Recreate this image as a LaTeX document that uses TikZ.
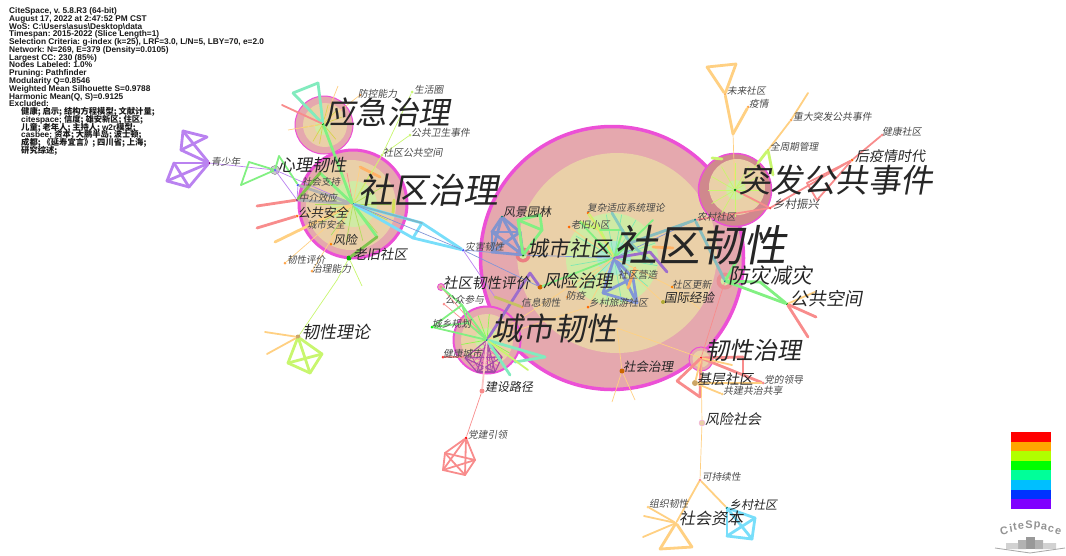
\documentclass[tikz,border=0pt]{standalone}
\usepackage{fontspec}
\setmainfont{Liberation Sans}
\newfontfamily\cjk[FakeSlant=0.18]{Noto Sans CJK SC}
\newfontfamily\cjkup{Noto Sans CJK SC}
\usetikzlibrary{positioning,calc}
\definecolor{ringpink}{RGB}{229,168,174}
\definecolor{ringtan}{RGB}{234,208,168}
\definecolor{ringgreen}{RGB}{208,234,165}
\definecolor{ringcore}{RGB}{175,232,205}
\definecolor{ringmag}{RGB}{236,80,214}
\definecolor{ered}{RGB}{248,140,140}
\definecolor{eorange}{RGB}{255,208,130}
\definecolor{eyellow}{RGB}{200,246,110}
\definecolor{egreen}{RGB}{130,240,130}
\definecolor{eteal}{RGB}{130,235,190}
\definecolor{ecyan}{RGB}{120,222,250}
\definecolor{eblue}{RGB}{130,150,215}
\definecolor{epurple}{RGB}{186,130,240}
\definecolor{eslate}{RGB}{140,170,190}
\begin{document}
\begin{tikzpicture}[x=1pt,y=-1pt,
    ringout/.style={circle, draw=ringmag, fill=ringpink, inner sep=0pt, minimum size=#1},
    ringmid/.style={circle, fill=ringtan, inner sep=0pt, minimum size=#1},
    ringin/.style={circle, fill=ringgreen, inner sep=0pt, minimum size=#1},
    dot/.style={circle, fill=#1, inner sep=0pt, minimum size=3pt},
    lab/.style={anchor=west, inner sep=0pt, text=black!85, font=\cjk\fontsize{#1}{#1}\selectfont},
    thk/.style={line width=2.8pt, line cap=round, line join=round},
    mid/.style={line width=1.8pt, line cap=round},
    thn/.style={line width=0.7pt}
]
    \useasboundingbox (0,0) rectangle (1066,555);
    % Citation rings
    \node[ringout=263pt, line width=3.5pt] (srO) at (612,258) {};
    \node[ringmid=200pt] (srM) at (617,253) {};
    \node[ringin=92pt] (srI) at (612,259) {};
    \node[circle, fill=ringcore, inner sep=0pt, minimum size=34pt] (srC) at (614,258) {};
    \node[ringout=108pt, line width=3pt] (sqO) at (353,204) {};
    \node[ringmid=90pt] (sqM) at (351,205) {};
    \node[ringin=46pt] (sqI) at (354,204) {};
    \node[ringout=58pt, line width=1pt] (yjO) at (324,125) {};
    \node[ringmid=44pt] (yjM) at (325,125) {};
    \node[ringin=16pt] (yjI) at (323,127) {};
    \node[ringout=73pt, line width=1.5pt, fill=ringpink!90!red!90!black] (tfO) at (735,190) {};
    \node[ringmid=56pt] (tfM) at (737,187) {};
    \node[ringin=20pt] (tfI) at (736,190) {};
    \node[ringout=67pt, line width=2pt] (crO) at (487,340) {};
    \node[ringmid=52pt] (crM) at (487,340) {};
    \node[ringin=24pt] (crI) at (487,340) {};
    \node[ringout=24pt, line width=1pt] (rzO) at (701,359) {};
    \node[ringmid=17pt] (rzM) at (701,359) {};
    \node[ringout=15pt, draw=none, fill=red!25!ringpink] (csO) at (523,255) {};
    \node[ringout=17pt, draw=none, fill=red!15!ringpink] (fzO) at (725,281) {};
    \node[ringin=9pt] (fzI) at (725,281) {};
    \node[ringout=7pt, line width=0.8pt] (pjO) at (441,287) {};
    \node[ringin=8pt] (csI) at (523,255) {};
    \node[circle, draw=gray, fill=gray!40, inner sep=0pt, minimum size=9pt] (xlO) at (275,170) {};
    % Labelled vertices
    \node[dot=violet] (qsn) at (209,163) {};
    \node[dot=blue!60] (xl) at (275,170) {};
    \node[dot=teal] (sq) at (353,204) {};
    \node[dot=green!60!black] (yj) at (323,124) {};
    \node[dot=blue!80] (sr) at (614,258) {};
    \node[dot=green!60!black] (tf) at (735,190) {};
    \node[dot=teal] (cr) at (487,340) {};
    \node[dot=green!50!black] (cs) at (523,255) {};
    \node[dot=teal] (fz) at (725,281) {};
    \node[dot=red] (rz) at (701,358) {};
    \node[dot=green!60!black] (gk) at (787,304) {};
    \node[dot=eorange] (sz) at (676,523) {};
    \node[dot=eorange!80!black, minimum size=5pt] (llun) at (298,337) {};
    \node[dot=blue!70] (shzc) at (298,185) {};
    \node[dot=violet] (zjxy) at (297,200) {};
    \node[dot=orange!80!red] (ggaq) at (297,216) {};
    \node[dot=orange] (fx) at (331,244) {};
    \node[dot=green!70!black, minimum size=5pt] (ljsq) at (349,258) {};
    \node[dot=orange!70] (rxpj) at (285,263) {};
    \node[dot=orange!70] (zlnl) at (312,271) {};
    \node[dot=orange!70] (fknl) at (360,95) {};
    \node[dot=eyellow] (shq) at (412,92) {};
    \node[dot=eyellow] (ggws) at (410,135) {};
    \node[dot=eyellow] (sqgg) at (382,155) {};
    \node[dot=blue!70] (zhrx) at (463,250) {};
    \node[dot=teal] (fjyl) at (502,217) {};
    \node[dot=orange!80!red] (fzsys) at (588,213) {};
    \node[dot=orange!80!red] (lxxq) at (569,227) {};
    \node[dot=eblue] (sqyz) at (633,278) {};
    \node[dot=orange] (sqgx) at (672,287) {};
    \node[dot=olive!70, minimum size=4pt] (gjjy) at (663,302) {};
    \node[dot=orange!80!red] (xclv) at (588,307) {};
    \node[dot=orange!70] (fy) at (567,297) {};
    \node[dot=orange!80!black, minimum size=5pt] (fxzl) at (540,287) {};
    \node[dot=orange!70] (xxrx) at (522,307) {};
    \node[dot=teal] (ncsq) at (695,220) {};
    \node[dot=orange!80!black, minimum size=5pt] (shzl) at (622,371) {};
    \node[dot=ered] (pj) at (441,287) {};
    \node[dot=ered] (gzcy) at (444,304) {};
    \node[dot=green] (cxgh) at (432,327) {};
    \node[dot=red!80] (jkcs) at (443,357) {};
    \node[dot=ered, minimum size=5pt] (jslj) at (482,391) {};
    \node[dot=red] (djyl) at (466,438) {};
    \node[dot=eorange!80!black, minimum size=6pt] (jcsq) at (695,383) {};
    \node[dot=ered] (ddld) at (763,383) {};
    \node[dot=eorange] (gjgx) at (722,394) {};
    \node[circle, draw=ringmag!50, fill=ringtan, inner sep=0pt, minimum size=6pt] (fxsh) at (702,423) {};
    \node[dot=ered] (kcx) at (700,480) {};
    \node[dot=teal] (xcsq) at (727,508) {};
    \node[dot=eorange] (zzrx) at (648,507) {};
    \node[dot=orange!70] (wlsq) at (725,94) {};
    \node[dot=orange!70] (yq) at (748,107) {};
    \node[dot=orange!70] (zdtf) at (791,120) {};
    \node[dot=eyellow!70!orange] (qzq) at (768,150) {};
    \node[dot=red!70] (xczx) at (770,208) {};
    \node[dot=orange!80!red] (hyq) at (852,160) {};
    \node[dot=ered] (jksq) at (882,135) {};
    % Free ends
    \foreach \n/\p in {pa/{183,131},pb/{207,137},pc/{181,150},pd/{174,163},pe/{167,181},pf/{189,187},
        xa/{249,162},xb/{241,185},xc/{279,156},ra/{257,206},rb/{257,228},oa/{275,242},ca/{422,223},cb/{413,238},
        ya/{293,93},yb/{318,83},yc/{282,105},yd/{288,130},ye/{338,86},
        ga/{600,230},gb/{612,213},gc/{623,230},gd/{580,222},ge/{653,220},gf/{630,243},gg/{652,263},
        ba/{520,232},bb/{492,232},bc/{492,252},na/{518,220},nb/{540,215},nc/{542,230},
        sa/{603,293},sb/{637,303},ua/{650,252},ub/{667,272},va/{628,288},vb/{635,268},vc/{653,247},vd/{673,248},
        ma/{530,273},mb/{495,297},cc/{462,305},cd/{468,323},ce/{463,357},ch/{465,358},ci/{477,372},cj/{495,372},ck/{502,357},
        ta/{545,357},tb/{515,362},tc/{510,375},td/{528,370},
        qa/{445,453},qb/{475,460},qc/{443,470},qd/{465,475},
        la/{265,332},lb/{267,354},lc/{288,363},ld/{310,373},le/{322,354},
        ka/{337,280},kb/{362,286},
        fa/{760,282},fb/{740,255},ha/{816,317},hb/{808,337},hc/{815,292},
        ia/{743,357},ib/{743,375},ic/{677,381},id/{700,397},ie/{732,365},
        oe/{617,328},of/{612,402},og/{635,400},oh/{700,309},
        wa/{755,518},wb/{752,539},wc/{727,536},
        za/{644,516},zb/{643,537},zc/{660,549},zd/{692,547},
        jx/{733,134},ja/{707,67},jb/{736,64},jc/{773,175},jd/{712,158},jh/{722,159},ji/{758,163},je/{808,93},jf/{807,183},jg/{817,200},
        sm/{377,237},sn/{320,173},so/{360,167},sp/{380,177},ss/{393,213},st/{394,200},su/{347,173}}
        \coordinate (\n) at (\p);
    % Spokes of the big rings
    \foreach \ang in {-60,-20,-150,170,135,100,80,40,10,-100,-80}
        \draw[egreen!60!ecyan,thn] (sr) -- ++(\ang:44);
    \foreach \ang in {-90,-60,-30,-120,-150,180,0,30,150,120,90}
        \draw[eyellow,thn] (tf) -- ++(\ang:27);
    \foreach \ang in {-85,-55,-110,-140,170,30,60,15}
        \draw[eyellow!70!green,thn] (cr) -- ++(\ang:26);
    \foreach \ang in {-130,-75,-45,-20,170,120,100,70,50}
        \draw[eyellow!70!orange,thn] (yj) -- ++(\ang:20);
    \foreach \ang in {-60,-30,0,25,50,75,100,125,150,180}
        \draw[eorange!70!green,thn] (sq) -- ++(\ang:38);
    % Connectors
    \foreach \a/\b in {pa/pb,pa/pc,pb/pc,pa/qsn,pc/qsn,pd/qsn,pd/pe,pe/pf,pf/qsn,pd/pf,pe/qsn}
        \draw[epurple,thk] (\a) -- (\b);
    \foreach \a/\b in {qsn/xl,xl/sq,xl/zjxy,zjxy/shzc,zhrx/mb}
        \draw[epurple,thn] (\a) -- (\b);
    \foreach \a/\b in {xa/xb,xa/xl,xb/xl,xc/shzc,xc/xl}
        \draw[egreen,mid] (\a) -- (\b);
    \foreach \a/\b in {ra/zjxy,rb/ggaq,ic/id,id/rz,ia/ib,rz/ia,rz/ddld,jkcs/ce}
        \draw[ered,thk] (\a) -- (\b);
    \draw[eorange,thk] (oa) -- (sq);
    \foreach \a/\b in {so/sp}
        \draw[orange!60,thk] (\a) -- (\b);
    \draw[eyellow!80!orange,thk] (ss) -- (st);
    \foreach \a/\b in {sq/zjxy,sq/shzc}
        \draw[black!30,thk] (\a) -- (\b);
    \foreach \a/\b in {sq/ggaq,sq/fx,sq/rxpj,sq/zlnl,sq/sqgg,sq/so,yj/yd,yj/fknl,yj/ye}
        \draw[eorange,thn] (\a) -- (\b);
    \draw[ered,thn] (sq) -- (su);
    \foreach \a/\b in {yj/sq,sq/sm,sq/sn}
        \draw[egreen,thk] (\a) -- (\b);
    \foreach \a/\b in {sm/ljsq,sn/zjxy}
        \draw[egreen!60!olive,thk] (\a) -- (\b);
    \foreach \a/\b in {ljsq/ka,ka/llun,ljsq/kb,shq/sqgg,ggws/sqgg,sqgg/sq}
        \draw[eyellow,thn] (\a) -- (\b);
    \foreach \a/\b in {zhrx/ca,zhrx/cb,ca/cb,ca/sq,cb/sq}
        \draw[ecyan,thk] (\a) -- (\b);
    \draw[ecyan!60!gray,mid] (ca) -- (sq);
    \foreach \a/\b in {ya/yb,ya/yj,yb/yj}
        \draw[eteal,thk] (\a) -- (\b);
    \draw[ered,mid] (yc) -- (yj);
    \foreach \a/\b in {fjyl/ba,fjyl/bb,fjyl/bc,ba/bb,bb/bc,ba/bc,bc/cs,ba/cs,bb/cs,fjyl/cs}
        \draw[eblue!90!gray,thk] (\a) -- (\b);
    \foreach \a/\b in {na/nb,nb/nc,na/nc,na/cs,nc/cs}
        \draw[egreen,thk] (\a) -- (\b);
    \foreach \a/\b in {zhrx/cs,cs/sr,zhrx/fxzl,ncsq/sr,zhrx/sq}
        \draw[eblue,thn] (\a) -- (\b);
    \foreach \a/\b in {fzsys/ga,ga/sr,gd/ga}
        \draw[eyellow,thk] (\a) -- (\b);
    \foreach \a/\b in {gc/sr,ga/gc,gd/sr,ge/sr,fxzl/sr}
        \draw[egreen,mid] (\a) -- (\b);
    \foreach \a/\b in {gb/gf,gg/gf}
        \draw[eslate!50!eteal,thk] (\a) -- (\b);
    \foreach \a/\b in {lxxq/sr,fzsys/sr,gjjy/sr,xclv/sr,fy/sr}
        \draw[eorange,thn] (\a) -- (\b);
    \foreach \a/\b in {sa/sqyz,sa/sb,sqyz/sb,sr/sa,sr/sqyz,sr/sb}
        \draw[eblue,thk] (\a) -- (\b);
    \foreach \a/\b in {sr/ua,ua/ub}
        \draw[epurple!85!black,thk] (\a) -- (\b);
    \foreach \a/\b in {va/vb,vc/vd}
        \draw[orange!60,thk] (\a) -- (\b);
    \foreach \a/\b in {ncsq/fz,gf/ncsq}
        \draw[eslate!70!eteal,thk] (\a) -- (\b);
    \foreach \a/\b in {fxzl/ma,ma/cr}
        \draw[epurple!85!black,thk] (\a) -- (\b);
    \draw[olive!50,thk] (mb) -- (xxrx);
    \foreach \a/\b in {sqgx/oh,sqgx/sr,oe/shzl,shzl/of,shzl/og,oe/rz,cr/sr,xclv/cr}
        \draw[eorange,thn] (\a) -- (\b);
    \foreach \a/\b in {cr/gzcy,cr/pj,rz/fz,jslj/djyl}
        \draw[ered,thn] (\a) -- (\b);
    \foreach \a/\b in {cxgh/cc,cc/cd,cxgh/cd,cd/cr,cxgh/cr,cc/cr,pj/cc}
        \draw[egreen,mid] (\a) -- (\b);
    % Dense mesh of the purple pentagon
    \foreach \t in {0.2,0.4,0.6,0.8}{
        \draw[magenta!60,thn] ($(ch)!\t!(ci)$) -- ($(cr)!\t!(ck)$);
        \draw[magenta!60,thn] ($(ck)!\t!(cj)$) -- ($(cr)!\t!(ch)$);
        \draw[violet!70,thn] ($(ci)!\t!(cj)$) -- (cr);
        \draw[violet!70,thn] ($(ch)!\t!(ck)$) -- ($(ci)!\t!(cj)$);
    }
    \foreach \a/\b in {ch/ci,ci/cj,cj/ck,ck/cr,ch/cr,ci/cr,cj/cr,ch/cj,ci/ck,ch/ck}
        \draw[violet!70,line width=1.1pt] (\a) -- (\b);
    \foreach \a/\b in {cr/ta,ta/tb,cr/tc}
        \draw[eteal,thk] (\a) -- (\b);
    \draw[eyellow,mid] (cr) -- (td);
    \draw[ered!50,mid] (cr) -- (jslj);
    \foreach \a/\b in {djyl/qa,djyl/qb,djyl/qc,djyl/qd,qa/qb,qa/qc,qa/qd,qb/qc,qb/qd,qc/qd}
        \draw[ered,mid] (\a) -- (\b);
    \foreach \a/\b in {la/llun,lb/llun,za/sz,zb/sz,zzrx/sz,xcsq/kcx,kcx/sz,rz/ie,rz/jcsq,jcsq/gjgx,jcsq/ddld,zdtf/je,zdtf/qzq}
        \draw[eorange,mid] (\a) -- (\b);
    \foreach \a/\b in {llun/lc,llun/le,lc/ld,ld/le,lc/le,llun/ld}
        \draw[eyellow,thk] (\a) -- (\b);
    \foreach \a/\b in {fz/fa,fa/gk,fz/gk,fz/fb}
        \draw[egreen,thk] (\a) -- (\b);
    \foreach \a/\b in {gk/ha,gk/hb,ic/rz}
        \draw[ered,thk] (\a) -- (\b);
    \draw[eorange,mid] (gk) -- (hc);
    \foreach \a/\b in {fxsh/rz,fxsh/kcx,jx/tf}
        \draw[eorange,thn] (\a) -- (\b);
    \foreach \a/\b in {xcsq/wa,wa/wb,wb/wc,wc/xcsq,xcsq/wb,wa/wc}
        \draw[ecyan,thk] (\a) -- (\b);
    \foreach \a/\b in {sz/zc,zc/zd,zd/sz,wlsq/ja,ja/jb,jb/wlsq,wlsq/jx,yq/jx}
        \draw[eorange,thk] (\a) -- (\b);
    \foreach \a/\b in {qzq/jc,qzq/ji,jd/jh}
        \draw[eyellow,thk] (\a) -- (\b);
    \draw[eyellow,thn] (ji) -- (tf);
    \foreach \a/\b in {tf/xczx,xczx/hyq,hyq/jf,jf/jg,jg/hyq,ncsq/xczx,hyq/jksq}
        \draw[ered,mid] (\a) -- (\b);
    % Large labels
    \node[lab=43] (tsr) at (614,245) {社区韧性};
    \node[lab=35] (tsq) at (358,190) {社区治理};
    \node[lab=31.5] (tyj) at (324,113) {应急治理};
    \node[lab=32.5] (ttf) at (738,180) {突发公共事件};
    \node[lab=31.5] (tcr) at (491,328) {城市韧性};
    \node[lab=21] (tcs) at (527,248) {城市社区};
    \node[lab=21] (tfz) at (728,275) {防灾减灾};
    \node[lab=24] (trz) at (705,350) {韧性治理};
    \node[lab=18] (tgk) at (790,299) {公共空间};
    \node[lab=17] (txl) at (278,165) {心理韧性};
    \node[lab=17] (tll) at (302,332) {韧性理论};
    \node[lab=17.5] (tfxz) at (543,281) {风险治理};
    \node[lab=16] (tsz) at (679,518) {社会资本};
    \node[lab=14.5] (tpj) at (443,283) {社区韧性评价};
    \node[lab=14] (tjc) at (697,379) {基层社区};
    \node[lab=14] (tfxs) at (705,419) {风险社会};
    \node[lab=14] (thy) at (855,156) {后疫情时代};
    \node[lab=13.5] (tlj) at (353,254) {老旧社区};
    \node[lab=12.5] (tgg) at (298,213) {公共安全};
    \node[lab=12.5] (tgj) at (664,298) {国际经验};
    \node[lab=12.5] (tsh) at (623,367) {社会治理};
    \node[lab=12] (tjs) at (485,387) {建设路径};
    \node[lab=12] (txc) at (729,505) {乡村社区};
    \node[lab=12] (tfj) at (503,212) {风景园林};
    \node[lab=12] (tfx) at (333,240) {风险};
    % Small labels
    \foreach \t/\x/\y/\s [count=\i] in {社会支持/302/182/9.5,中介效应/299/198/9.5,城市安全/307/225/9.5,韧性评价/287/260/9.5,治理能力/312/269/9.7,
        防控能力/358/94/9.7,生活圈/414/90/9.7,公共卫生事件/411/133/9.8,社区公共空间/383/153/9.9,青少年/211/162/9.7,
        灾害韧性/465/247/9.7,复杂适应系统理论/587/208/9.7,老旧小区/571/225/9.6,社区营造/618/275/9.8,社区更新/672/285/9.8,
        防疫/566/296/9.7,乡村旅游社区/589/303/9.8,信息韧性/521/303/9.8,公众参与/445/300/9.7,城乡规划/432/324/9.7,
        健康城市/443/354/9.7,党建引领/468/435/9.7,党的领导/764/380/9.7,共建共治共享/723/391/9.9,可持续性/702/477/9.6,
        组织韧性/649/504/9.8,未来社区/727/91/9.6,疫情/749/104/9.7,重大突发公共事件/793/117/9.8,全周期管理/770/147/9.6,
        健康社区/882/132/9.8,乡村振兴/773/204/11.5,农村社区/697/217/9.6}
        \node[lab=\s, text=black!72] (s\i) at (\x,\y) {\t};
    % Run information
    \foreach \t [count=\i from 0] in {{CiteSpace, v. 5.8.R3 (64-bit)},
        {August 17, 2022 at 2:47:52 PM CST},
        {WoS: C:\textbackslash Users\textbackslash asus\textbackslash Desktop\textbackslash data},
        {Timespan: 2015-2022 (Slice Length=1)},
        {Selection Criteria: g-index (k=25), LRF=3.0, L/N=5, LBY=70, e=2.0},
        {Network: N=269, E=379 (Density=0.0105)},
        {Largest CC: 230 (85\%)},
        {Nodes Labeled: 1.0\%},
        {Pruning: Pathfinder},
        {Modularity Q=0.8546},
        {Weighted Mean Silhouette S=0.9788},
        {Harmonic Mean(Q, S)=0.9125},
        {Excluded:},
        {\hspace*{12pt}{\cjkup 健康; 启示; 结构方程模型; 文献计量;}},
        {\hspace*{12pt}citespace; {\cjkup 信度; 雄安新区; 住区;}},
        {\hspace*{12pt}{\cjkup 儿童; 老年人; 主持人; }w2r{\cjkup 模型;}},
        {\hspace*{12pt}casbee; {\cjkup 资本; 大鹏半岛; 波士顿;}},
        {\hspace*{12pt}{\cjkup 成都; 《延寿宜言》; 四川省; 上海;}},
        {\hspace*{12pt}{\cjkup 研究综述;}}}
        \node[anchor=base west, inner sep=0pt, text=black!90, font=\fontsize{8.3}{8.3}\selectfont\bfseries\frenchspacing] (info\i) at (9,13.5+7.78*\i) {\t};
    % Colour bar
    \foreach \c [count=\i from 0] in {FF0000,FFA500,B0FF00,00FF00,00FF99,00BFFF,0033FF,8000FF}{
        \definecolor{barc}{HTML}{\c}
        \fill[barc] (1011,432+9.6*\i) rectangle (1051,441.6+9.6*\i);
    }
    % Logo
    \foreach \ch/\xx/\yy/\rr in {C/1004/531/14,i/1011/528/10,t/1015/527/8,e/1021/526/4,S/1029/525/0,p/1037/526/-4,a/1044/527/-8,c/1051/529/-12,e/1058/532/-16}
        \node[text=gray!85, font=\fontsize{11}{11}\selectfont\bfseries, rotate=\rr, inner sep=0pt] at (\xx,\yy) {\ch};
    \fill[gray!80] (1026,537) rectangle (1035,549);
    \fill[gray!60] (1018,540) rectangle (1026,549) (1035,540) rectangle (1043,549);
    \fill[gray!35] (1006,543) rectangle (1018,549) (1043,543) rectangle (1056,549);
    \draw[gray!70, line width=0.8pt] (995,548) -- (1030,553) -- (1065,548);
\end{tikzpicture}
\end{document}
